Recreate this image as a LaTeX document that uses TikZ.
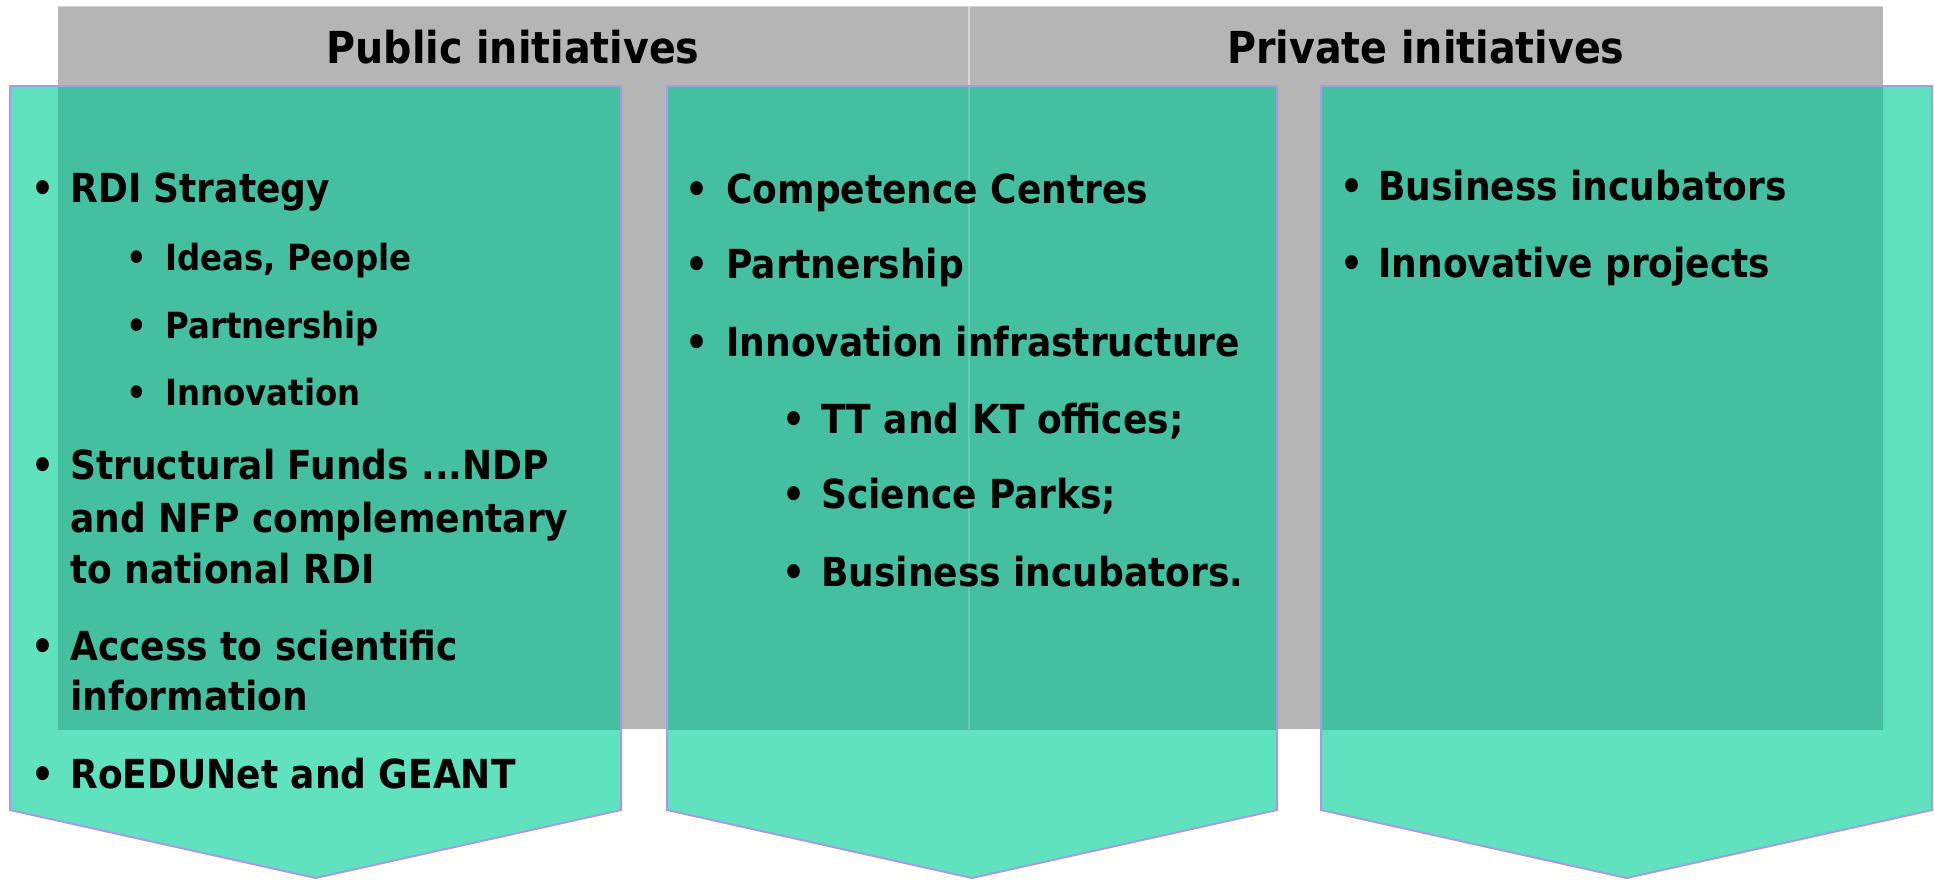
\documentclass[tikz,border=0pt]{standalone}
\usepackage{fontspec}
\newfontfamily\tah{DejaVu Sans Condensed}
\definecolor{gbg}{RGB}{181,181,181}
\definecolor{gline}{RGB}{215,215,215}
\definecolor{lg}{RGB}{96,226,190}
\definecolor{dg}{RGB}{68,192,160}
\definecolor{edgec}{RGB}{165,155,235}
\tikzset{
  hdr/.style={font=\tah\bfseries\fontsize{22}{26}\selectfont, inner sep=0pt, anchor=base},
  txt/.style={font=\tah\bfseries\fontsize{20}{24}\selectfont, inner sep=0pt, anchor=base west},
  subtxt/.style={font=\tah\bfseries\fontsize{18}{22}\selectfont, inner sep=0pt, anchor=base west},
  bul/.style={font=\tah\bfseries\fontsize{20}{24}\selectfont, inner sep=0pt, anchor=base},
  subbul/.style={font=\tah\bfseries\fontsize{18}{22}\selectfont, inner sep=0pt, anchor=base},
  panelborder/.style={draw=edgec, line width=1pt, line join=miter}
}
\begin{document}
\begin{tikzpicture}[x=0.5pt,y=-0.5pt]
\useasboundingbox (0,0) rectangle (1934,879);
% grey header band
\fill[gbg] (58,6) rectangle (1883,729);
\draw[gline, line width=0.6pt] (58,6.5) -- (1883,6.5);
\draw[gline, line width=0.8pt] (969,6) -- (969,729);
% panels light
\fill[lg] (10,86) -- (621,86) -- (621,810) -- (315.5,878) -- (10,810) -- cycle;
\fill[lg] (667,86) -- (1277,86) -- (1277,810) -- (972,878) -- (667,810) -- cycle;
\fill[lg] (1321,86) -- (1932,86) -- (1932,810) -- (1626.5,878) -- (1321,810) -- cycle;
% panels over grey
\begin{scope}
\clip (58,6) rectangle (1883,729);
\fill[dg] (10,86) rectangle (621,810);
\fill[dg] (667,86) rectangle (1277,810);
\fill[dg] (1321,86) rectangle (1932,810);
\draw[white, opacity=0.18, line width=0.8pt] (969,86) -- (969,729);
\end{scope}
% borders
\draw[panelborder] (10,86) -- (621,86) -- (621,810) -- (315.5,878) -- (10,810) -- cycle;
\draw[panelborder] (667,86) -- (1277,86) -- (1277,810) -- (972,878) -- (667,810) -- cycle;
\draw[panelborder] (1321,86) -- (1932,86) -- (1932,810) -- (1626.5,878) -- (1321,810) -- cycle;
% headers
\node[hdr] (hpub) at (513,63) {Public initiatives};
\node[hdr] (hpriv) at (1426,63) {Private initiatives};
% panel 1
\node[bul] (b1) at (43,202) {•};
\node[txt] (t1) at (70,202) {RDI Strategy};
\node[subbul] (b1a) at (137,270) {•};
\node[subtxt] (t1a) at (165,270) {Ideas, People};
\node[subbul] (b1b) at (137,338) {•};
\node[subtxt] (t1b) at (165,338) {Partnership};
\node[subbul] (b1c) at (137,405) {•};
\node[subtxt] (t1c) at (165,405) {Innovation};
\node[bul] (b2) at (43,479) {•};
\node[txt] (t2a) at (70,479) {Structural Funds ...NDP};
\node[txt] (t2b) at (70,532) {and NFP complementary};
\node[txt] (t2c) at (70,583) {to national RDI};
\node[bul] (b3) at (43,660) {•};
\node[txt] (t3a) at (70,660) {Access to scientific};
\node[txt] (t3b) at (70,710) {information};
\node[bul] (b4) at (43,788) {•};
\node[txt] (t4) at (70,788) {RoEDUNet and GEANT};
% panel 2
\node[bul] (c1) at (697,203) {•};
\node[txt] (u1) at (726,203) {Competence Centres};
\node[bul] (c2) at (697,278) {•};
\node[txt] (u2) at (726,278) {Partnership};
\node[bul] (c3) at (697,356) {•};
\node[txt] (u3) at (726,356) {Innovation infrastructure};
\node[bul] (c3a) at (794,433) {•};
\node[txt] (u3a) at (821,433) {TT and KT offices;};
\node[bul] (c3b) at (794,508) {•};
\node[txt] (u3b) at (821,508) {Science Parks;};
\node[bul] (c3c) at (794,586) {•};
\node[txt] (u3c) at (821,586) {Business incubators.};
% panel 3
\node[bul] (d1) at (1352,200) {•};
\node[txt] (v1) at (1378,200) {Business incubators};
\node[bul] (d2) at (1352,277) {•};
\node[txt] (v2) at (1378,277) {Innovative projects};
\end{tikzpicture}
\end{document}
